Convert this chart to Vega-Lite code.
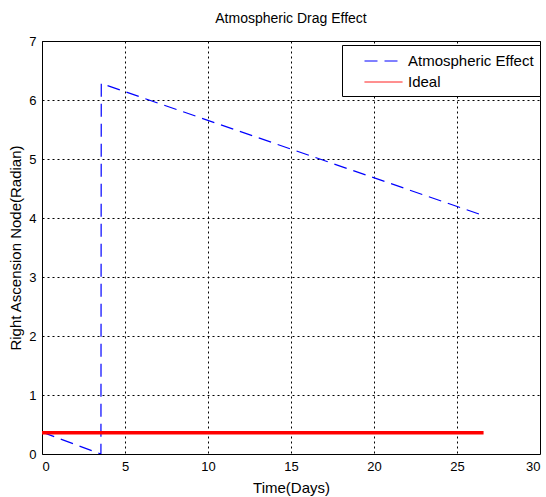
{
  "$schema": "https://vega.github.io/schema/vega-lite/v6.json",
  "autosize": {"type": "none"},
  "padding": {"left": 42, "top": 41, "right": 6, "bottom": 43},
  "width": 498,
  "height": 413,
  "background": "white",
  "config": {
    "font": "Liberation Sans, Arial",
    "view": {"stroke": "black", "strokeWidth": 1},
    "axis": {
      "grid": true,
      "gridColor": "black",
      "gridDash": [2, 3],
      "gridOpacity": 1,
      "gridWidth": 1,
      "domain": false,
      "ticks": false,
      "labelColor": "black",
      "labelFontSize": 13,
      "titleColor": "black",
      "titleFontSize": 15,
      "titleFontWeight": "normal"
    }
  },
  "title": {
    "text": "Atmospheric Drag Effect",
    "fontSize": 14,
    "fontWeight": "normal",
    "color": "black",
    "offset": 9
  },
  "data": {
    "values": [
      {"series": "Atmospheric Effect", "order": 1, "day": 0, "value": 0.37},
      {"series": "Atmospheric Effect", "order": 2, "day": 3.55, "value": 0.0},
      {"series": "Atmospheric Effect", "order": 3, "day": 3.57, "value": 6.28},
      {"series": "Atmospheric Effect", "order": 4, "day": 26.6, "value": 4.04},
      {"series": "Ideal", "order": 1, "day": 0, "value": 0.36},
      {"series": "Ideal", "order": 2, "day": 26.6, "value": 0.36}
    ]
  },
  "mark": {"type": "line", "clip": true},
  "encoding": {
    "x": {
      "field": "day",
      "type": "quantitative",
      "scale": {"domain": [0, 30], "nice": false, "zero": false},
      "axis": {"values": [0, 5, 10, 15, 20, 25, 30], "title": "Time(Days)", "labelPadding": 6, "titlePadding": 7}
    },
    "y": {
      "field": "value",
      "type": "quantitative",
      "scale": {"domain": [0, 7], "nice": false},
      "axis": {"values": [0, 1, 2, 3, 4, 5, 6, 7], "title": "Right Ascension Node(Radian)", "labelPadding": 6, "titlePadding": 5}
    },
    "order": {"field": "order"},
    "color": {
      "field": "series",
      "type": "nominal",
      "scale": {"domain": ["Atmospheric Effect", "Ideal"], "range": ["#0000ff", "#ff0000"]},
      "legend": {
        "title": null,
        "orient": "none",
        "legendX": 300,
        "legendY": 4,
        "strokeColor": "black",
        "fillColor": "white",
        "padding": 6,
        "symbolType": "M-1,0L3,0",
        "symbolSize": 361,
        "symbolOffset": 16,
        "symbolStrokeWidth": 1,
        "labelFontSize": 15,
        "labelColor": "black",
        "rowPadding": 3,
        "labelOffset": 24,
        "labelLimit": 300
      }
    },
    "strokeDash": {
      "field": "series",
      "type": "nominal",
      "scale": {"domain": ["Atmospheric Effect", "Ideal"], "range": [[13, 7], [1, 0]]},
      "legend": null
    },
    "strokeWidth": {
      "condition": {"test": "datum.series === 'Ideal'", "value": 3.5},
      "value": 1.2
    }
  }
}
